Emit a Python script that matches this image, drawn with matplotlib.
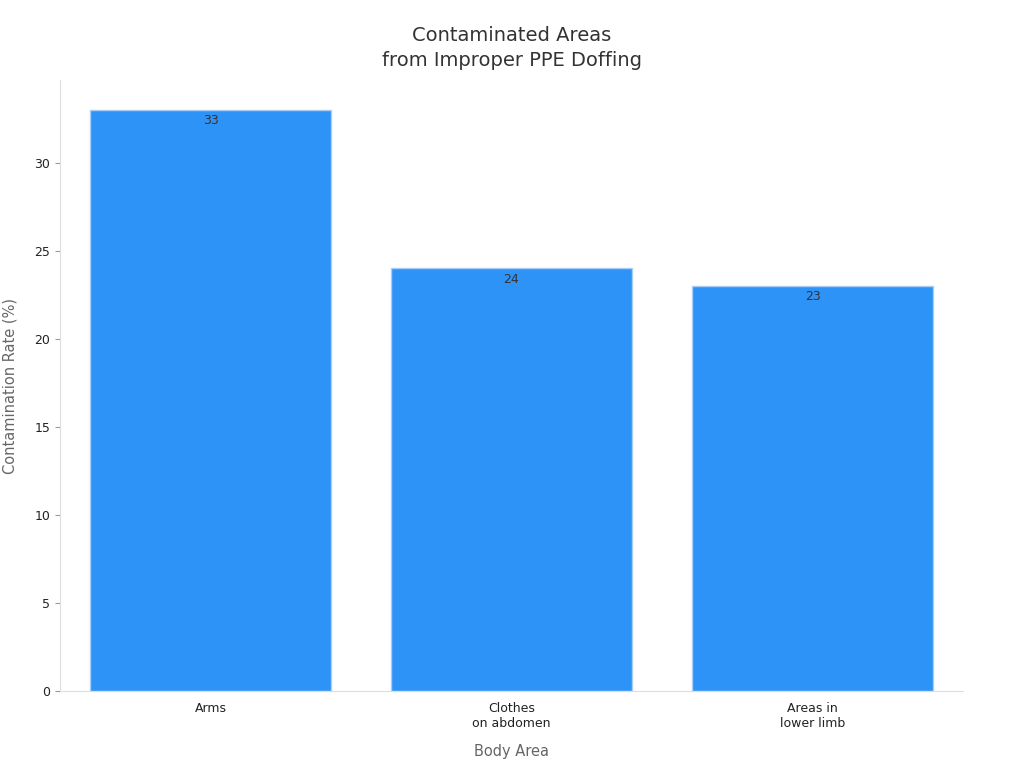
import matplotlib
matplotlib.use("Agg")
import matplotlib.pyplot as plt

categories = ["Arms", "Clothes\non abdomen", "Areas in\nlower limb"]
rates = [33, 24, 23]

fig = plt.figure(figsize=(10.24, 7.68), dpi=100)
ax = fig.add_axes([60 / 1024, 1 - 691 / 768, 903 / 1024, 611 / 768])

bars = ax.bar(range(len(categories)), rates, width=0.8, color="#2e93f7",
              edgecolor="#a9cdf5", linewidth=1)
for b, v in zip(bars, rates):
    ax.text(b.get_x() + b.get_width() / 2, v - 0.25, str(v), ha="center", va="top",
            fontsize=9, color="#333333")

ax.set_xlim(-0.5, 2.5)
ax.set_ylim(0, 34.7)
ax.set_xticks(range(len(categories)))
ax.set_xticklabels(categories, fontsize=9, color="#222222")
ax.tick_params(axis="y", labelsize=9, labelcolor="#222222", color="#999999")
ax.tick_params(axis="x", length=0, pad=8)
for s in ["top", "right"]:
    ax.spines[s].set_visible(False)
for s in ["left", "bottom"]:
    ax.spines[s].set_color("#dddddd")

ax.set_xlabel("Body Area", fontsize=10.5, color="#666666", labelpad=10)
ax.set_ylabel("Contamination Rate (%)", fontsize=10.5, color="#666666", labelpad=12)
ax.set_title("Contaminated Areas\nfrom Improper PPE Doffing", fontsize=14,
             color="#333333", pad=10, linespacing=1.4)

fig.savefig("out.png", dpi=100)
